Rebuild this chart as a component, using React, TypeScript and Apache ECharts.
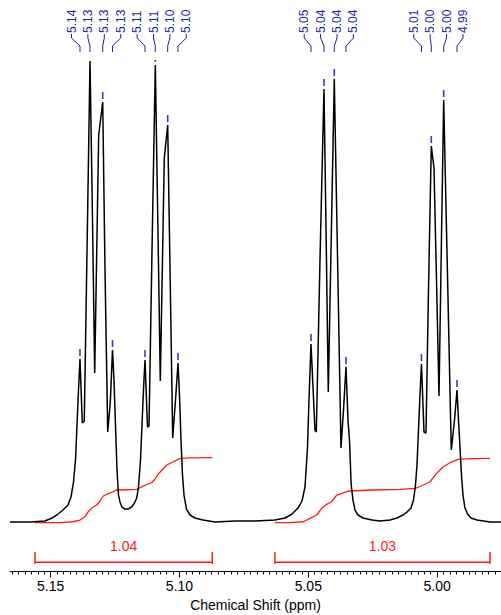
import React, { useEffect, useRef } from "react";
import * as echarts from "echarts";

const FONT = "'Liberation Sans', Arial, Helvetica, sans-serif";
const LABEL_COLOR = "#1f1f9a";
const MARKER_COLOR = "#3a3ab4";
const RED = "#ff1a1a";

// [chemical shift (ppm), intensity]
const spectrum: [number, number][] = [
  [5.1658, 0], [5.15804, 0], [5.15221, 0.22], [5.1495, 0.87], [5.14717, 1.73],
  [5.14523, 2.6], [5.14328, 3.68], [5.14212, 5.41], [5.14115, 8.66], [5.14037, 13.42],
  [5.13979, 21.0], [5.13921, 28.57], [5.13863, 35.28], [5.13773, 21.43], [5.13696, 21.86],
  [5.13571, 65.37], [5.13474, 99.78], [5.13377, 65.37], [5.13292, 32.25], [5.13137, 83.77],
  [5.12981, 90.91], [5.12892, 54.55], [5.12787, 19.48], [5.12686, 25.97], [5.12601, 37.23],
  [5.12543, 30.74], [5.12492, 22.08], [5.12426, 11.26], [5.12368, 5.84], [5.1231, 4.33],
  [5.12232, 3.25], [5.12116, 2.81], [5.11999, 2.81], [5.11856, 3.25], [5.11747, 4.11],
  [5.11661, 5.19], [5.11592, 7.58], [5.11514, 13.42], [5.11456, 21.0], [5.11398, 28.57],
  [5.11339, 35.06], [5.11242, 20.56], [5.11184, 20.78], [5.1106, 61.04], [5.10939, 98.92],
  [5.10842, 65.37], [5.10745, 30.52], [5.1059, 78.79], [5.10458, 85.93], [5.10361, 52.38],
  [5.10264, 18.18], [5.10155, 26.41], [5.10058, 34.42], [5.1, 27.49], [5.09942, 17.75],
  [5.09884, 10.17], [5.09825, 5.84], [5.09728, 2.81], [5.09592, 1.52], [5.09398, 0.87],
  [5.09088, 0.43], [5.08622, 0], [5.07845, 0.22], [5.07069, 0.22], [5.06293, 0.43],
  [5.05905, 0.87], [5.05633, 1.73], [5.054, 3.03], [5.05245, 4.55], [5.05128, 7.58],
  [5.05031, 16.02], [5.04973, 26.41], [5.04895, 38.53], [5.0474, 19.91], [5.04689, 19.48],
  [5.04546, 56.71], [5.04391, 93.72], [5.04305, 61.04], [5.04224, 28.14], [5.04107, 62.12],
  [5.03991, 95.89], [5.03863, 56.71], [5.03731, 16.02], [5.03634, 24.24], [5.03536, 33.55],
  [5.03459, 22.08], [5.03401, 17.75], [5.03335, 8.01], [5.03265, 4.76], [5.03187, 2.6],
  [5.03071, 1.52], [5.02877, 0.87], [5.02527, 0.43], [5.02217, 0.22], [5.01828, 0.43],
  [5.01557, 0.87], [5.01324, 1.52], [5.01168, 2.16], [5.01013, 3.03], [5.00916, 4.76],
  [5.00838, 8.01], [5.0078, 12.34], [5.00722, 19.91], [5.00664, 27.49], [5.00606, 34.2],
  [5.00508, 19.48], [5.00431, 19.26], [5.00334, 50.22], [5.00225, 81.39], [5.0012, 76.62],
  [5.00023, 52.38], [4.99926, 27.27], [4.99837, 58.87], [4.99744, 91.34], [4.99596, 53.46],
  [4.99449, 15.58], [4.99324, 22.08], [4.99227, 28.57], [4.99169, 22.08], [4.99111, 16.23],
  [4.99053, 10.17], [4.98995, 5.84], [4.98917, 3.03], [4.9882, 1.73], [4.98684, 0.87],
  [4.98451, 0.43], [4.97946, 0], [4.97519, 0],
];

const integralCurveA: [number, number][] = [
  [5.15609, -0.11], [5.14639, -0.11], [5.14134, 0.06], [5.13863, 0.43], [5.13668, 1.15],
  [5.13552, 2.16], [5.13408, 3.03], [5.13214, 3.68], [5.13086, 4.55], [5.12958, 5.63],
  [5.12814, 6.06], [5.12632, 6.43], [5.12438, 6.93], [5.12116, 6.99], [5.11661, 7.08],
  [5.11405, 7.79], [5.11262, 8.12], [5.11079, 8.51], [5.10951, 9.31], [5.10823, 10.39],
  [5.10679, 11.26], [5.10497, 12.34], [5.10241, 13.05], [5.09981, 13.79], [5.09592, 13.9],
  [5.08727, 13.92],
];

const integralCurveB: [number, number][] = [
  [5.06293, -0.11], [5.0571, -0.15], [5.05194, 0.06], [5.04934, 0.8], [5.04674, 1.52],
  [5.0448, 2.97], [5.04286, 3.83], [5.04092, 4.39], [5.03897, 5.84], [5.03703, 6.21],
  [5.03447, 6.71], [5.02477, 6.93], [5.0144, 7.08], [5.00858, 7.29], [5.00703, 7.58],
  [5.00536, 8.01], [5.00276, 8.72], [5.00015, 10.54], [4.99759, 11.97], [4.99499, 12.84],
  [4.99177, 13.57], [4.98723, 13.74], [4.97946, 13.79],
];

const peakPpm = [
  5.13863, 5.13474, 5.12981, 5.12601, 5.11339, 5.10939, 5.10458, 5.10058,
  5.04895, 5.04391, 5.03991, 5.03536, 5.00606, 5.00225, 4.99744, 4.99227,
];
const peakLabels = [
  "5.14", "5.13", "5.13", "5.13", "5.11", "5.11", "5.10", "5.10",
  "5.05", "5.04", "5.04", "5.04", "5.01", "5.00", "5.00", "4.99",
];

const integralRanges: [number, number][] = [
  [5.15609, 5.08727],
  [5.06293, 4.97946],
];
const integralValues = ["1.04", "1.03"];

const majorTicks = [5.0, 5.05, 5.1, 5.15];
const minorTickStep = 0.0025;
const axisMin = 4.97519;
const axisMax = 5.1658;
const yMin = -10.6;
const yMax = 100;

function buildMinorTicks(): number[] {
  const out: number[] = [];
  const start = Math.ceil(axisMin / minorTickStep - 1e-9);
  const end = Math.floor(axisMax / minorTickStep + 1e-9);
  for (let k = start; k <= end; k++) out.push(+(k * minorTickStep).toFixed(4));
  return out;
}

function peakHeight(ppm: number): number {
  let best = spectrum[0];
  for (const p of spectrum) {
    if (Math.abs(p[0] - ppm) < Math.abs(best[0] - ppm)) best = p;
  }
  return best[1];
}

function layoutLabels(xs: number[], gap: number): number[] {
  let clusters = xs.map((_, i) => ({ s: i, e: i }));
  const startOf = (c: { s: number; e: number }) => {
    let m = 0;
    for (let i = c.s; i <= c.e; i++) m += xs[i];
    const n = c.e - c.s + 1;
    m /= n;
    return m - ((n - 1) / 2) * gap;
  };
  let merged = true;
  while (merged) {
    merged = false;
    for (let k = 0; k < clusters.length - 1; k++) {
      const a = clusters[k];
      const b = clusters[k + 1];
      const endA = startOf(a) + (a.e - a.s) * gap;
      const startB = startOf(b);
      if (startB - endA < gap) {
        clusters.splice(k, 2, { s: a.s, e: b.e });
        merged = true;
        break;
      }
    }
  }
  const out: number[] = new Array(xs.length);
  for (const c of clusters) {
    const s = startOf(c);
    for (let i = c.s; i <= c.e; i++) out[i] = s + (i - c.s) * gap;
  }
  return out;
}

export default function App() {
  const ref = useRef<HTMLDivElement>(null);

  useEffect(() => {
    if (!ref.current) return;
    const chart = echarts.init(ref.current, null, { renderer: "svg" });

    const option: any = {
      animation: false,
      backgroundColor: "#ffffff",
      grid: {
        left: 10,
        right: 0,
        top: 60,
        bottom: 44,
        containLabel: false,
        outerBoundsMode: "none",
      },
      xAxis: [
        {
          type: "value",
          inverse: true,
          min: axisMin,
          max: axisMax,
          position: "bottom",
          name: "Chemical Shift (ppm)",
          nameLocation: "middle",
          nameGap: 24,
          nameTextStyle: { fontSize: 14, color: "#000", fontFamily: FONT },
          axisLine: { show: true, onZero: false, lineStyle: { color: "#000", width: 1 } },
          axisTick: {
            show: true,
            customValues: buildMinorTicks(),
            length: 3.5,
            lineStyle: { color: "#000", width: 1 },
          },
          axisLabel: {
            show: true,
            customValues: majorTicks,
            formatter: (v: number) => v.toFixed(2),
            fontSize: 14,
            color: "#000",
            fontFamily: FONT,
            margin: 8,
          },
          splitLine: { show: false },
        },
        {
          type: "value",
          inverse: true,
          min: axisMin,
          max: axisMax,
          position: "bottom",
          offset: 0,
          axisLine: { show: false, onZero: false },
          axisTick: {
            show: true,
            customValues: majorTicks,
            length: 6.5,
            lineStyle: { color: "#000", width: 1 },
          },
          axisLabel: { show: false },
          splitLine: { show: false },
        },
      ],
      yAxis: {
        type: "value",
        min: yMin,
        max: yMax,
        show: false,
        axisLine: { onZero: false },
        splitLine: { show: false },
      },
      series: [
        {
          type: "line",
          data: integralCurveA,
          showSymbol: false,
          lineStyle: { color: RED, width: 1.3 },
          z: 2,
          silent: true,
        },
        {
          type: "line",
          data: integralCurveB,
          showSymbol: false,
          lineStyle: { color: RED, width: 1.3 },
          z: 2,
          silent: true,
        },
        {
          type: "line",
          data: spectrum,
          showSymbol: false,
          lineStyle: { color: "#000", width: 1.5 },
          z: 3,
          silent: true,
        },
        {
          type: "custom",
          clip: true,
          silent: true,
          z: 4,
          data: peakPpm.map((p) => [p, peakHeight(p)]),
          renderItem: (params: any, api: any) => {
            const c = api.coord([api.value(0), api.value(1)]);
            return {
              type: "rect",
              shape: { x: c[0] - 0.8, y: c[1] - 10, width: 1.6, height: 7 },
              style: { fill: MARKER_COLOR },
            };
          },
        },
        {
          type: "custom",
          clip: false,
          silent: true,
          z: 4,
          data: [[axisMin, 0]],
          renderItem: (params: any, api: any) => {
            const cs = params.coordSys;
            const top = cs.y;
            const xs = peakPpm.map((p) => api.coord([p, 0])[0]);
            const lx = layoutLabels(xs, 16.4);
            const children: any[] = [];
            xs.forEach((px, i) => {
              children.push({
                type: "text",
                x: lx[i],
                y: top - 27,
                rotation: Math.PI / 2,
                style: {
                  text: peakLabels[i],
                  fill: LABEL_COLOR,
                  fontSize: 12,
                  fontFamily: FONT,
                  align: "left",
                  verticalAlign: "middle",
                },
              });
              children.push({
                type: "polyline",
                shape: {
                  points: [
                    [lx[i], top - 26],
                    [lx[i], top - 22],
                    [px, top - 14],
                    [px, top - 8],
                  ],
                },
                style: { stroke: LABEL_COLOR, lineWidth: 1, fill: "none" },
              });
            });
            return { type: "group", children };
          },
        },
        {
          type: "custom",
          clip: false,
          silent: true,
          z: 4,
          data: integralRanges.map((r, i) => [r[0], r[1], i]),
          renderItem: (params: any, api: any) => {
            const cs = params.coordSys;
            const x1 = api.coord([api.value(0), 0])[0];
            const x2 = api.coord([api.value(1), 0])[0];
            const axisY = cs.y + cs.height;
            const yb = axisY - 8.7;
            const yt = axisY - 19;
            const ye = axisY - 7;
            const st = { stroke: RED, lineWidth: 1.5 };
            return {
              type: "group",
              children: [
                { type: "line", shape: { x1, y1: yb, x2, y2: yb }, style: st },
                { type: "line", shape: { x1, y1: yt, x2: x1, y2: ye }, style: st },
                { type: "line", shape: { x1: x2, y1: yt, x2, y2: ye }, style: st },
                {
                  type: "text",
                  x: (x1 + x2) / 2,
                  y: axisY - 25.5,
                  style: {
                    text: integralValues[api.value(2)],
                    fill: RED,
                    fontSize: 14,
                    fontFamily: FONT,
                    align: "center",
                    verticalAlign: "middle",
                  },
                },
              ],
            };
          },
        },
      ],
    };

    chart.setOption(option);
    return () => chart.dispose();
  }, []);

  return (
    <div
      ref={ref}
      style={{ position: "fixed", left: 0, top: 0, width: 501, height: 615, background: "#fff" }}
    />
  );
}
